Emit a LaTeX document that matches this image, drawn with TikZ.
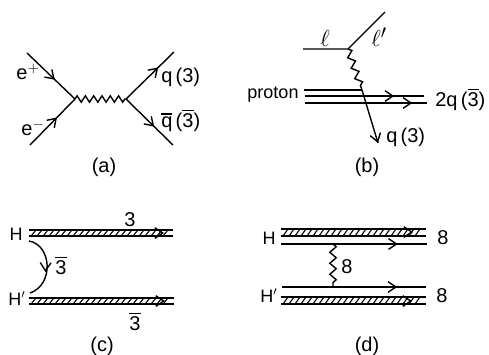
\documentclass[tikz,border=0pt]{standalone}
\usepackage{fontspec}
\setmainfont{Liberation Sans}
\usetikzlibrary{arrows.meta,decorations.pathmorphing,decorations.markings}
\newcommand\ovl[1]{\leavevmode\vbox{\hrule height .8pt \kern 1.3pt \hbox{#1}}}
\newcommand\hatchband[4]{%
  \draw[line] (#1,#3) -- (#2,#3);
  \draw[line] (#1,#4) -- (#2,#4);
  \foreach \xx in {#1,...,#2}{
    \pgfmathtruncatemacro\rr{mod(\xx-#1,6)}
    \ifnum\rr=2 \pgfmathparse{\xx+5<#2}\ifnum\pgfmathresult=1
      \draw[line width=.8pt] (\xx,#4) -- (\xx+5,#3);
    \fi\fi
  }}
\tikzset{
  line/.style={line width=1.05pt,black},
  wiggle/.style={line,decorate,decoration={zigzag,segment length=#1,amplitude=2.4pt}},
  arrowat/.style={postaction={decorate,decoration={markings,mark=at position #1 with {\arrow[line width=1.05pt]{Straight Barb[length=6pt,width=8pt]}}}}},
  lab/.style={inner sep=0pt,font=\fontsize{15}{17}\selectfont},
  labs/.style={inner sep=0pt,font=\fontsize{13.5}{15}\selectfont},
  labell/.style={inner sep=0pt,font=\fontsize{19}{21}\selectfont},
}
\begin{document}
\begin{tikzpicture}[x=0.75pt,y=-0.75pt]
\useasboundingbox (0,0) rectangle (489,354);
% (a)
\coordinate (a1) at (27,53); \coordinate (a2) at (30,145);
\coordinate (av) at (75,99); \coordinate (aw) at (126,99);
\coordinate (a3) at (174,52); \coordinate (a4) at (173,145);
\draw[line,arrowat=.58] (a1) -- (av);
\draw[line,arrowat=.6] (a2) -- (av);
\draw[line,arrowat=.67] (aw) -- (a3);
\draw[line,arrowat=.6] (aw) -- (a4);
\draw[wiggle=8.3*0.75pt] (av) -- (aw);
\node[lab] (ep) at (28,72) {e$^{+}$};
\node[lab] (em) at (33,128) {e$^{-}$};
\node[lab,anchor=base west] (aq) at (161,82) {q\,(3)};
\node[lab,anchor=base west] (aqb) at (161,127) {\ovl{q}\,(\ovl{3})};
\node[lab] (acap) at (104,167) {(a)};
% (b)
\coordinate (b1) at (303,49); \coordinate (bv) at (348,49); \coordinate (b2) at (385,12);
\coordinate (bw) at (362,90); \coordinate (bp1) at (304,90);
\coordinate (bp2a) at (305,96); \coordinate (bp2b) at (424,96);
\coordinate (bp3a) at (305,103); \coordinate (bp3b) at (427,103);
\coordinate (bq) at (378,143);
\draw[line] (b1) -- (bv) -- (b2);
\draw[wiggle=11*0.75pt] (bv) -- (bw);
\draw[line] (bp1) -- (bw);
\draw[line,arrowat=.75] (bp2a) -- (bp2b);
\draw[line,arrowat=.88] (bp3a) -- (bp3b);
\draw[line,arrowat=1] (bw) -- (bq);
\node[labell] (bl) at (325,38) {$\ell$};
\node[labell] (blp) at (379,37) {$\ell'$};
\node[labs] (bpr) at (273,95) {proton};
\node[lab,anchor=base west] (b2q) at (435,106) {2q\,(\ovl{3})};
\node[lab,anchor=base west] (bq3) at (386,142) {q\,(3)};
\node[lab] (bcap) at (367,167) {(b)};
% (c)
\hatchband{29}{173}{230}{236}
\hatchband{29}{174}{298}{304}
\coordinate (ct1) at (29,233); \coordinate (ct2) at (164,233);
\coordinate (cb1) at (29,301); \coordinate (cb2) at (165,301);
\path[arrowat=1] (ct1) -- (ct2);
\path[arrowat=1] (cb1) -- (cb2);
\coordinate (cc1) at (29,241); \coordinate (cc2) at (30,293);
\draw[line] (cc1) .. controls (52,245) and (54,285) .. (cc2);
\coordinate (carr1) at (45.6,264); \coordinate (carr2) at (45.4,272);
\path[arrowat=1] (carr1) -- (carr2);
\node[labs] (cH) at (16,234) {H};
\node[labs] (cHp) at (17,299) {H$'$};
\node[lab] (c3) at (130,220) {3};
\node[lab,anchor=base] (c3b) at (135,330) {\ovl{3}};
\node[lab,anchor=base] (c3bb) at (61,274) {\ovl{3}};
\node[lab] (ccap) at (102,346) {(c)};
% (d)
\hatchband{281}{426}{229}{236}
\hatchband{281}{426}{297}{304}
\coordinate (dt1) at (281,232); \coordinate (dt2) at (413,232);
\coordinate (db1) at (281,301); \coordinate (db2) at (412,301);
\path[arrowat=1] (dt1) -- (dt2);
\path[arrowat=1] (db1) -- (db2);
\coordinate (d1a) at (281,244); \coordinate (d1b) at (427,244);
\coordinate (d2a) at (282,287); \coordinate (d2b) at (426,287);
\coordinate (dw1) at (333,244); \coordinate (dw2) at (333,287);
\draw[line,arrowat=.8] (d1a) -- (d1b);
\draw[line,arrowat=.8] (d2a) -- (d2b);
\draw[wiggle=11*0.75pt] (dw1) -- (dw2);
\node[labs] (dH) at (269,238) {H};
\node[labs] (dHp) at (269,296) {H$'$};
\node[lab] (d8a) at (443,238) {8};
\node[lab] (d8b) at (442,296) {8};
\node[lab] (d8c) at (347,267) {8};
\node[lab] (dcap) at (367,346) {(d)};
\end{tikzpicture}
\end{document}
